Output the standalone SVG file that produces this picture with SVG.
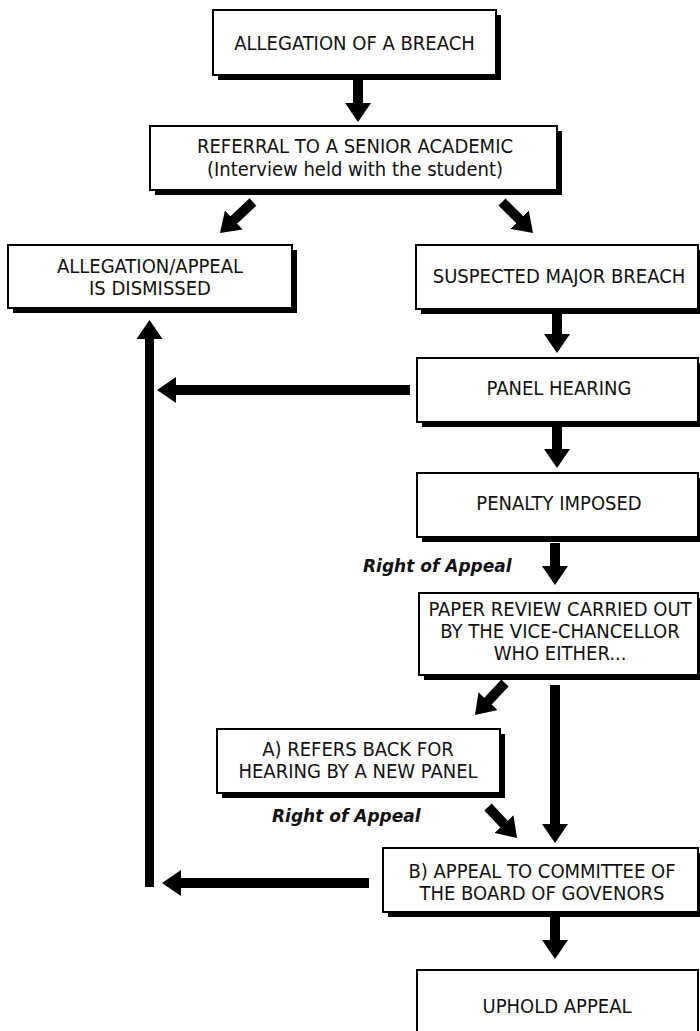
<svg xmlns="http://www.w3.org/2000/svg" width="700" height="1031" viewBox="0 0 700 1031">
<style>
.box{fill:#fff;stroke:#000;stroke-width:2}
.sh{fill:#000}
.t{font-family:"DejaVu Sans Condensed","DejaVu Sans",sans-serif;font-stretch:condensed;font-size:20px;fill:#111;text-anchor:middle}
.lab{font-family:"DejaVu Sans",sans-serif;font-weight:bold;font-style:italic;font-size:17px;fill:#111}
.ar{stroke:#000;stroke-width:10;fill:none;marker-end:url(#ah)}
</style>
<defs>
<marker id="ah" markerUnits="userSpaceOnUse" markerWidth="19" markerHeight="26" viewBox="0 0 19 26" refX="1" refY="13" orient="auto">
<path d="M0,0 L19,13 L0,26 z" fill="#000"/>
</marker>
</defs>
<rect width="700" height="1031" fill="#fff"/>
<g id="connectors">
<line class="ar" x1="358" y1="80" x2="358" y2="104"/>
<line class="ar" x1="253" y1="202" x2="233.1" y2="220.7"/>
<line class="ar" x1="502" y1="202" x2="520.3" y2="220.3"/>
<line class="ar" x1="557" y1="314" x2="557" y2="335"/>
<line class="ar" x1="410" y1="390" x2="175" y2="390"/>
<line class="ar" x1="557" y1="427" x2="557" y2="450"/>
<line class="ar" x1="555" y1="543" x2="555" y2="567"/>
<line class="ar" x1="505" y1="683" x2="487.3" y2="701.9"/>
<line class="ar" x1="555" y1="685" x2="555" y2="825"/>
<line class="ar" x1="488" y1="807" x2="504.7" y2="824.8"/>
<line class="ar" x1="369" y1="883" x2="180" y2="883"/>
<line class="ar" x1="149.5" y1="887" x2="149.5" y2="338" style="stroke-width:9"/>
<line class="ar" x1="555" y1="917" x2="555" y2="941"/>
</g>
<g id="n-allegation">
<rect class="sh" x="218" y="15" width="283" height="65"/>
<rect class="box" x="213" y="10" width="283" height="65"/>
<text class="t" x="354.5" y="50">ALLEGATION OF A BREACH</text>
</g>
<g id="n-referral">
<rect class="sh" x="155" y="131" width="407" height="64"/>
<rect class="box" x="150" y="126" width="407" height="64"/>
<text class="t" x="355" y="153">REFERRAL TO A SENIOR ACADEMIC</text>
<text class="t" x="355" y="176">(Interview held with the student)</text>
</g>
<g id="n-dismissed">
<rect class="sh" x="13" y="250" width="284" height="63"/>
<rect class="box" x="8" y="245" width="284" height="63"/>
<text class="t" x="150" y="273">ALLEGATION/APPEAL</text>
<text class="t" x="150" y="295">IS DISMISSED</text>
</g>
<g id="n-suspected">
<rect class="sh" x="421" y="250" width="282" height="64"/>
<rect class="box" x="416" y="245" width="282" height="64"/>
<text class="t" x="559" y="283">SUSPECTED MAJOR BREACH</text>
</g>
<g id="n-panel">
<rect class="sh" x="422" y="363" width="281" height="64"/>
<rect class="box" x="417" y="358" width="281" height="64"/>
<text class="t" x="559" y="395">PANEL HEARING</text>
</g>
<g id="n-penalty">
<rect class="sh" x="422" y="478" width="281" height="64"/>
<rect class="box" x="417" y="473" width="281" height="64"/>
<text class="t" x="559" y="510">PENALTY IMPOSED</text>
</g>
<text class="lab" x="363" y="572">Right of Appeal</text>
<g id="n-paper">
<rect class="sh" x="424" y="598" width="279" height="82"/>
<rect class="box" x="419" y="593" width="279" height="82"/>
<text class="t" x="560" y="616">PAPER REVIEW CARRIED OUT</text>
<text class="t" x="560" y="638">BY THE VICE-CHANCELLOR</text>
<text class="t" x="560" y="660">WHO EITHER...</text>
</g>
<g id="n-refers">
<rect class="sh" x="222" y="734" width="283" height="64"/>
<rect class="box" x="217" y="729" width="283" height="64"/>
<text class="t" x="358" y="756">A) REFERS BACK FOR</text>
<text class="t" x="358" y="778">HEARING BY A NEW PANEL</text>
</g>
<text class="lab" x="272" y="822">Right of Appeal</text>
<g id="n-committee">
<rect class="sh" x="388" y="853" width="315" height="64"/>
<rect class="box" x="383" y="848" width="315" height="64"/>
<text class="t" x="542" y="878">B) APPEAL TO COMMITTEE OF</text>
<text class="t" x="542" y="900">THE BOARD OF GOVENORS</text>
</g>
<g id="n-uphold">
<rect class="box" x="417" y="970" width="281" height="75"/>
<text class="t" x="557" y="1013">UPHOLD APPEAL</text>
</g>
</svg>
